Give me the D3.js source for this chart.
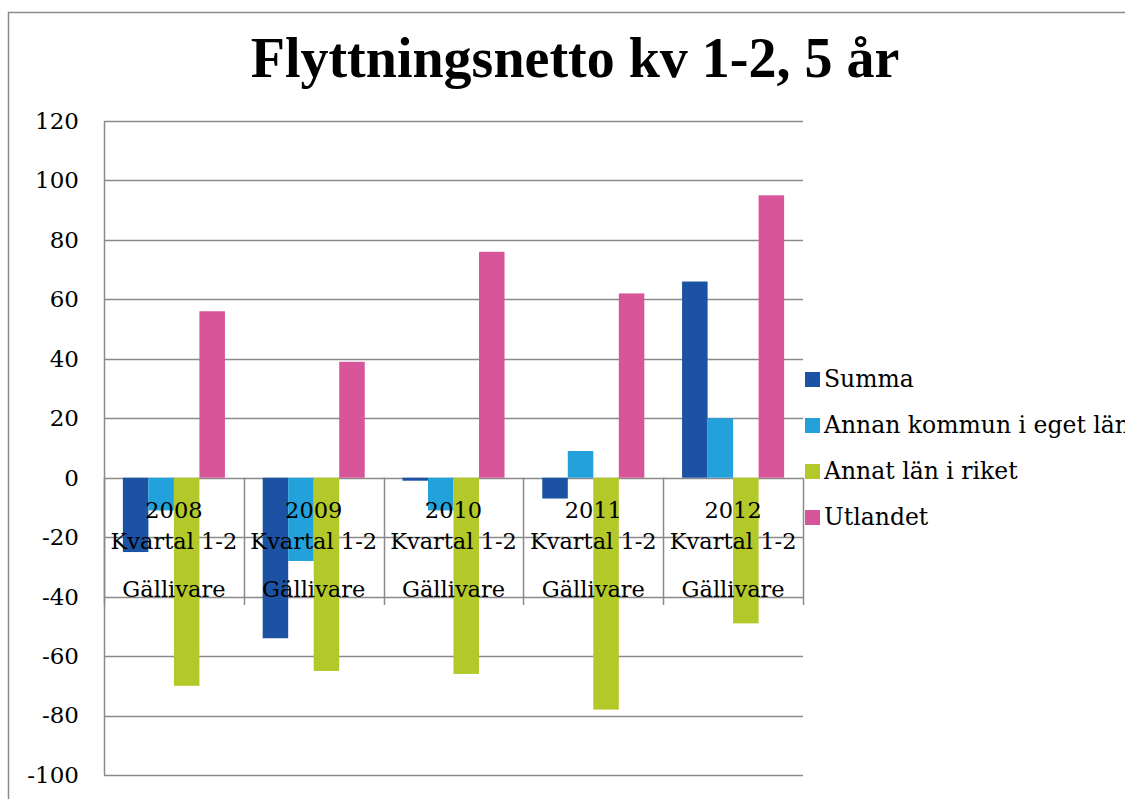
<!DOCTYPE html>
<html>
<head>
<meta charset="utf-8">
<script src="https://cdn.jsdelivr.net/npm/d3@7/dist/d3.min.js"></script>
<style>
  body { margin: 0; background: #fff; }
  svg { display: block; }
</style>
</head>
<body>
<svg id="chart" width="1125" height="799"></svg>
<script>
var categories = ['2008', '2009', '2010', '2011', '2012'];
var subLabel = 'Kvartal 1-2';
var placeLabel = 'Gällivare';
var seriesNames = ['Summa', 'Annan kommun i eget län', 'Annat län i riket', 'Utlandet'];
var summa = [-25, -54, -1, -7, 66];
var annanKommun = [-11, -28, -11, 9, 20];
var annatLan = [-70, -65, -66, -78, -49];
var utlandet = [56, 39, 76, 62, 95];
var yTicks = [-100, -80, -60, -40, -20, 0, 20, 40, 60, 80, 100, 120];
var colors = ['#1b52a3', '#22a1db', '#b2c929', '#d8559a'];

var titleText = 'Flyttningsnetto kv 1-2, 5 år';
var serif = '"DejaVu Serif", serif';
var gridColor = '#8a8a8a';

var svg = d3.select('#chart');
// note: "top" is taken by window.top, so plot edges get their own names
var plotLeft = 104, plotRight = 803, plotTop = 121, plotBottom = 775;

var seriesValues = [summa, annanKommun, annatLan, utlandet];

var x = d3.scaleBand().domain(categories).range([plotLeft, plotRight]);
var xInner = d3.scaleBand()
  .domain(d3.range(seriesNames.length))
  .range([0, x.bandwidth()])
  .paddingOuter(0.74);
var y = d3.scaleLinear().domain([-100, 120]).range([plotBottom, plotTop]);

// outer frame
svg.append('rect')
  .attr('x', 8.5).attr('y', 12.5)
  .attr('width', 1200).attr('height', 900)
  .attr('fill', 'none')
  .attr('stroke', gridColor)
  .attr('stroke-width', 1.5);

// title
svg.append('text')
  .attr('x', 575).attr('y', 77)
  .attr('text-anchor', 'middle')
  .style('font-family', '"Liberation Serif", serif')
  .style('font-weight', 'bold')
  .style('font-size', '56px')
  .text(titleText);

// gridlines
svg.append('g').selectAll('line')
  .data(yTicks)
  .join('line')
  .attr('x1', plotLeft).attr('x2', plotRight)
  .attr('y1', function(d) { return Math.round(y(d)) + 0.5; })
  .attr('y2', function(d) { return Math.round(y(d)) + 0.5; })
  .attr('stroke', gridColor)
  .attr('stroke-width', 1.5);

// y axis line
svg.append('line')
  .attr('x1', plotLeft + 0.5).attr('x2', plotLeft + 0.5)
  .attr('y1', plotTop).attr('y2', plotBottom)
  .attr('stroke', gridColor)
  .attr('stroke-width', 1.5);

// y tick labels (plain hyphen for negatives, like the original)
var yAxis = d3.axisLeft(y)
  .tickValues(yTicks)
  .tickFormat(function(d) { return String(d); })
  .tickSize(0)
  .tickPadding(25);
var yAxisG = svg.append('g')
  .attr('transform', 'translate(' + plotLeft + ',0)')
  .call(yAxis);
yAxisG.select('.domain').remove();
yAxisG.selectAll('text')
  .style('font-family', serif)
  .style('font-size', '23px')
  .attr('fill', '#000');

// bars
categories.forEach(function(cat, i) {
  seriesValues.forEach(function(values, s) {
    let v = values[i];
    svg.append('rect')
      .attr('x', x(cat) + xInner(s))
      .attr('width', xInner.bandwidth())
      .attr('y', y(Math.max(0, v)))
      .attr('height', Math.abs(y(v) - y(0)))
      .attr('fill', colors[s]);
  });
});

// category separators
var sepY1 = y(0), sepY2 = 605;
var seps = categories.map(function(c) { return x(c); }).concat([plotRight]);
svg.append('g').selectAll('line')
  .data(seps)
  .join('line')
  .attr('x1', function(d) { return Math.round(d) + 0.5; })
  .attr('x2', function(d) { return Math.round(d) + 0.5; })
  .attr('y1', sepY1).attr('y2', sepY2)
  .attr('stroke', gridColor)
  .attr('stroke-width', 1.5);

// category labels
var catLabels = svg.append('g')
  .style('font-family', serif)
  .style('font-size', '22.5px')
  .attr('text-anchor', 'middle');
categories.forEach(function(cat) {
  let cx = x(cat) + x.bandwidth() / 2;
  catLabels.append('text').attr('x', cx).attr('y', 518).text(cat);
  catLabels.append('text').attr('x', cx).attr('y', 549).text(subLabel);
  catLabels.append('text').attr('x', cx).attr('y', 597).text(placeLabel);
});

// legend
var legend = svg.append('g')
  .style('font-family', serif)
  .style('font-size', '23.5px');
seriesNames.forEach(function(name, s) {
  let ly = 372 + s * 46;
  legend.append('rect')
    .attr('x', 805).attr('y', ly)
    .attr('width', 15).attr('height', 15)
    .attr('fill', colors[s]);
  legend.append('text')
    .attr('x', 824).attr('y', ly + 15)
    .text(name);
});
</script>
</body>
</html>
